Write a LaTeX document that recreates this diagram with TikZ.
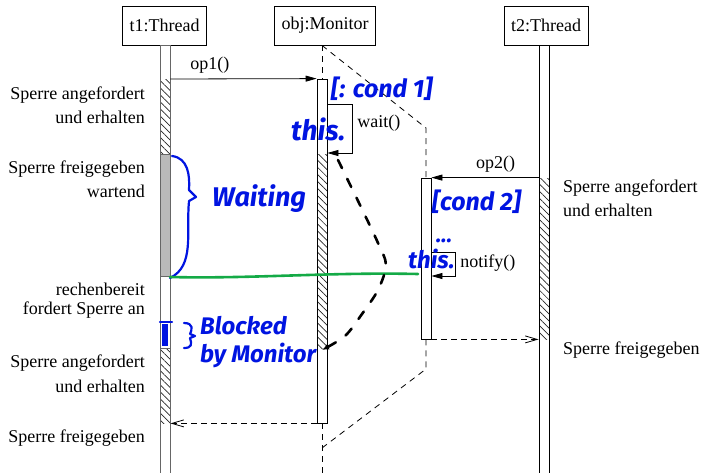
\documentclass[tikz,border=0pt]{standalone}
\usepackage{fontspec}
\setmainfont{Liberation Serif}
\newfontfamily\handfont{Fira Sans}
\usetikzlibrary{arrows.meta,patterns.meta}
\definecolor{inkblue}{RGB}{0,20,225}
\definecolor{inkgreen}{RGB}{20,170,70}

\tikzset{
  head/.style={draw, line width=0.8pt, minimum height=39pt, inner xsep=7pt,
    font=\fontsize{18}{22}\selectfont},
  life/.style={draw, line width=0.8pt, minimum width=10pt, inner sep=0pt},
  hatch/.style={pattern={Lines[angle=-45,distance=5pt,line width=0.7pt]},
    pattern color=black!85},
  lbl/.style={font=\fontsize{18}{22}\selectfont, inner sep=0pt},
  msg/.style={line width=0.8pt, -{Triangle[length=11pt,width=6pt]}},
  ret/.style={line width=0.8pt, dash pattern=on 6pt off 4pt,
    -{Straight Barb[length=12pt,width=7pt]}},
  lifedash/.style={line width=0.8pt, dash pattern=on 6pt off 5pt},
  hand/.style={text=inkblue, inner sep=0pt,
    font=\handfont\bfseries\itshape\fontsize{#1}{#1}\selectfont},
  hand/.default=26,
  ink/.style={draw=inkblue, line width=2.2pt, line cap=round, line join=round},
}

\begin{document}
\begin{tikzpicture}[x=1pt,y=-1pt]
\useasboundingbox (0,0) rectangle (704,472);

% reference heights
\coordinate (y79) at (0,79);
\coordinate (y104) at (0,104);
\coordinate (y128) at (0,128);
\coordinate (y153) at (0,153);
\coordinate (y252) at (0,252);
\coordinate (y276) at (0,276);
\coordinate (y369) at (0,369);
\coordinate (y448) at (0,448);
\coordinate (ybot) at (0,476);

% lifeline heads
\node[head] (t1head) at (164.5,25.5) {t1:Thread};
\node[head] (mhead) at (325,25.5) {obj:Monitor};
\node[head] (t2head) at (546,25.5) {t2:Thread};

% bar states of the threads and the monitor
\fill[hatch] (160,79) rectangle (170,154);
\filldraw[fill=black!27, draw=black!60, line width=0.6pt] (160,154) rectangle (170,276);
\fill[hatch] (160,348) rectangle (170,423);
\draw[black!60, line width=0.6pt] (160,348) -- (170,348);
\fill[hatch] (317,154) rectangle (327,348);
\fill[hatch] (539,178) rectangle (549,339);

% bars
\node[life, draw=black!60, minimum height=431pt] (t1bar) at (165,260.5) {};
\node[life, minimum height=344pt] (mact) at (322,251) {};
\node[life, minimum height=161pt] (oact) at (426,258.5) {};
\node[life, minimum height=431pt] (t2bar) at (544,260.5) {};

% monitor lifeline, split over both activations
\coordinate (mtop) at (mact.north |- mhead.south);
\draw[lifedash] (mtop) -- (mact.north);
\draw[lifedash] (mtop) -- (oact.north |- y128) -- (oact.north);
\draw[lifedash] (oact.south) -- (oact.south |- y369) -- (mact.south |- y448);
\draw[lifedash] (mact.south) -- (mact.south |- ybot);

% messages
\draw[msg] (t1bar.east |- y79) -- (mact.north west)
  node[lbl, pos=0.27, above=5pt] (op1) {op1()};
\draw[msg] (mact.east |- y104) -- (352,104) -- (352,153)
  node[lbl, pos=0.4, right=5pt] (wait) {wait()} -- (mact.east |- y153);
\draw[msg] (t2bar.west |- oact.north) -- (oact.north east)
  node[lbl, pos=0.4, above=5pt] (op2) {op2()};
\draw[msg] (oact.east |- y252) -- (455,252) -- (455,276)
  node[lbl, pos=0.45, right=5pt] (notify) {notify()} -- (oact.east |- y276);
\draw[ret] (oact.south east) -- (t2bar.west |- oact.south);
\draw[ret] (mact.south west) -- (t1bar.east |- mact.south);

% state descriptions, left
\node[lbl, anchor=base east] (l1) at (145,99) {Sperre angefordert};
\node[lbl, anchor=base east] (l2) at (145,123) {und erhalten};
\node[lbl, anchor=base east] (l3) at (145,173) {Sperre freigegeben};
\node[lbl, anchor=base east] (l4) at (145,197) {wartend};
\node[lbl, anchor=base east] (l5) at (145,295) {rechenbereit};
\node[lbl, anchor=base east] (l6) at (145,314) {fordert Sperre an};
\node[lbl, anchor=base east] (l7) at (145,367) {Sperre angefordert};
\node[lbl, anchor=base east] (l8) at (145,392) {und erhalten};
\node[lbl, anchor=base east] (l9) at (145,442) {Sperre freigegeben};
% state descriptions, right
\node[lbl, anchor=base west] (r1) at (563,192) {Sperre angefordert};
\node[lbl, anchor=base west] (r2) at (563,216) {und erhalten};
\node[lbl, anchor=base west] (r3) at (563,354) {Sperre freigegeben};

% ink notes
\node[hand=25, anchor=base west] (cond1) at (331,97) {[: cond 1]};
\node[hand=28, anchor=base west] (this1) at (291,140) {this.};
\node[hand=27, anchor=base west] (waiting) at (212,206) {Waiting};
\node[hand=25, anchor=base west] (cond2) at (432,210) {[cond 2]};
\node[hand=22, anchor=base west] (dots) at (436,242) {...};
\node[hand=24, anchor=base west] (this2) at (408,268) {this.};
\node[hand=24, anchor=base west] (blk1) at (200,334) {Blocked};
\node[hand=24, anchor=base west] (blk2) at (200,362) {by Monitor};
\draw[ink] (172,156) .. controls (188,158) and (190,175) .. (189,190)
  -- (196,197) -- (189,201) .. controls (186,232) and (195,266) .. (170,278);
\draw[ink] (184,323) .. controls (194,323) and (192,330) .. (190,334)
  -- (195,336) -- (190,338) .. controls (192,344) and (192,348) .. (184,348);
\draw[ink] (160,322) -- (172,322);
\fill[inkblue] (162,324) rectangle (168,346);
\draw[draw=inkgreen, line width=2.6pt, line cap=round]
  (170,277) .. controls (250,279) and (330,272) .. (418,274);
\draw[line width=2.6pt, dash pattern=on 9pt off 12pt, line cap=round,
  -{Latex[length=7pt,width=6pt]}]
  plot[smooth] coordinates {(338,160) (360,205) (378,243) (386,265)
    (378,290) (362,314) (345,336) (322,350)};
\end{tikzpicture}
\end{document}
